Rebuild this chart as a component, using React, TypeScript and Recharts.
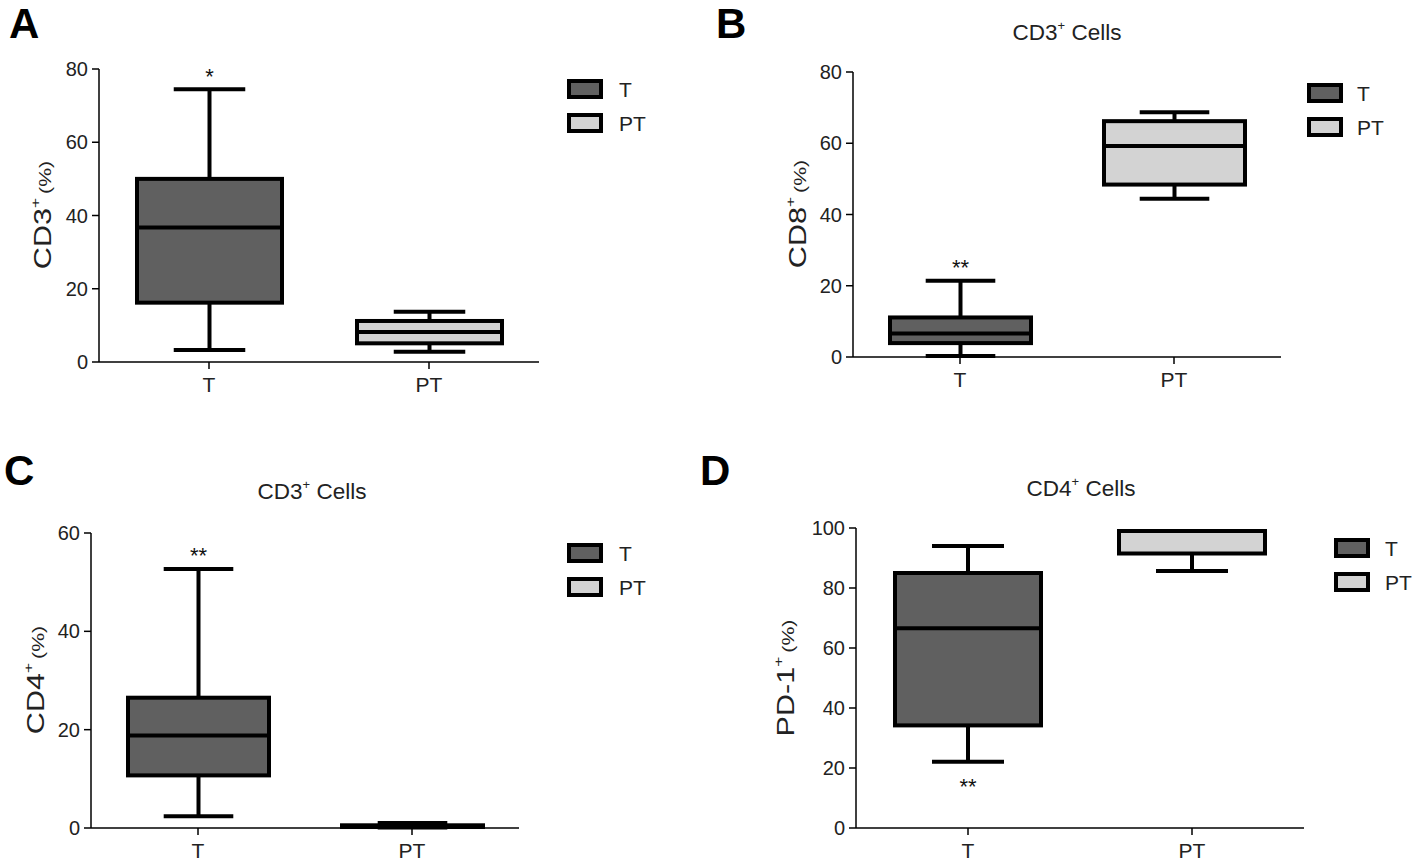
import React from 'react';
import { ComposedChart, Bar, XAxis, YAxis } from 'recharts';

// categories and legend
const categories = ['T', 'PT'];
const groupFills = ['#606060', '#d3d3d3'];

// box statistics: [min, q1, median, q3, max]
const cd3T = [3.3, 16.2, 36.7, 50.0, 74.5];
const cd3PT = [2.8, 5.1, 8.2, 11.2, 13.7];
const cd8T = [0.3, 3.9, 6.6, 11.1, 21.4];
const cd8PT = [44.4, 48.4, 59.2, 66.2, 68.7];
const cd4T = [2.4, 10.7, 18.8, 26.5, 52.7];
const cd4PT = [0.1, 0.2, 0.35, 0.55, 1.0];
const pd1T = [22.1, 34.2, 66.6, 85.0, 94.0];
const pd1PT = [85.7, 91.5, 99.0, 99.0, 99.0];

// significance marks (T group), position relative to whiskers
const sigMarks = ['*', '**', '**', '**'];
const sigPlaces = ['above', 'above', 'above', 'below'];

// tick values
const ticks80 = [0, 20, 40, 60, 80];
const ticks60 = [0, 20, 40, 60];
const ticks100 = [0, 20, 40, 60, 80, 100];

// titles / labels
const panelLetters = ['A', 'B', 'C', 'D'];
const panelTitles = ['', 'CD3', 'CD3', 'CD4'];
const yLabels = ['CD3', 'CD8', 'CD4', 'PD-1'];

const FONT = '"Liberation Sans", Arial, Helvetica, sans-serif';

function makeRows(tStats: number[], ptStats: number[], sig: string, place: string) {
  return categories.map((name, i) => ({
    name,
    stats: i === 0 ? tStats : ptStats,
    fill: groupFills[i],
    sig: i === 0 ? sig : '',
    place,
  }));
}

const BoxShape = (props: any) => {
  const { x, y, width, height, payload } = props;
  const s: number[] = payload.stats;
  const top = Math.min(y, y + height);
  const bot = Math.max(y, y + height);
  const span = s[4] - s[0];
  const py = (v: number) => (span === 0 ? top : top + ((s[4] - v) / span) * (bot - top));
  const cx = x + width / 2;
  const capHalf = width * 0.24;
  const sw = 4;
  const yMax = py(s[4]);
  const yMin = py(s[0]);
  const yQ3 = py(s[3]);
  const yQ1 = py(s[1]);
  const yMed = py(s[2]);
  return (
    <g>
      <line x1={cx} x2={cx} y1={yMax} y2={yQ3} stroke="#000" strokeWidth={sw} />
      <line x1={cx} x2={cx} y1={yQ1} y2={yMin} stroke="#000" strokeWidth={sw} />
      <line x1={cx - capHalf} x2={cx + capHalf} y1={yMax} y2={yMax} stroke="#000" strokeWidth={sw} />
      <line x1={cx - capHalf} x2={cx + capHalf} y1={yMin} y2={yMin} stroke="#000" strokeWidth={sw} />
      <rect x={x + sw / 2} y={yQ3} width={width - sw} height={Math.max(0, yQ1 - yQ3)} fill={payload.fill} stroke="#000" strokeWidth={sw} />
      <line x1={x + sw / 2} x2={x + width - sw / 2} y1={yMed} y2={yMed} stroke="#000" strokeWidth={sw} />
      {payload.sig ? (
        <text
          x={cx}
          y={payload.place === 'above' ? yMax - 5.5 : yMin + 32.5}
          textAnchor="middle"
          fontFamily={FONT}
          fontSize={22}
          fill="#111"
        >
          {payload.sig}
        </text>
      ) : null}
    </g>
  );
};

const YLabel = (props: any) => {
  const { lx, ly, main } = props;
  return (
    <text
      transform={`translate(${lx},${ly}) rotate(-90) scale(1.33,1)`}
      textAnchor="middle"
      fontFamily={FONT}
      fontSize={23}
      fill="#222"
    >
      <tspan>{main}</tspan>
      <tspan fontSize={13} dy={-11}>+</tspan>
      <tspan fontSize={16} dy={11} dx={3}>(%)</tspan>
    </text>
  );
};

type PanelProps = {
  rows: any[];
  left: number;
  top: number;
  width: number;
  height: number;
  margin: { top: number; right: number; bottom: number; left: number };
  domain: [number, number];
  ticks: number[];
  barSize: number;
  label: string;
  labelX: number;
  labelY: number;
};

const Panel = (p: PanelProps) => (
  <div style={{ position: 'absolute', left: p.left, top: p.top }}>
    <ComposedChart width={p.width} height={p.height} data={p.rows} margin={p.margin}>
      <XAxis
        dataKey="name"
        height={30}
        tickSize={7}
        tickMargin={8}
        axisLine={{ stroke: '#000', strokeWidth: 1.5 }}
        tickLine={{ stroke: '#000', strokeWidth: 1.5 }}
        tick={{ fill: '#222', fontSize: 21, fontFamily: FONT }}
      />
      <YAxis
        type="number"
        width={60}
        domain={p.domain}
        ticks={p.ticks}
        interval={0}
        tickSize={7}
        tickMargin={4}
        axisLine={{ stroke: '#000', strokeWidth: 1.5 }}
        tickLine={{ stroke: '#000', strokeWidth: 1.5 }}
        tick={{ fill: '#222', fontSize: 20, fontFamily: FONT }}
        label={<YLabel lx={p.labelX} ly={p.labelY} main={p.label} />}
      />
      <Bar
        dataKey={(d: any) => [d.stats[0], d.stats[4]]}
        barSize={p.barSize}
        shape={BoxShape}
        isAnimationActive={false}
      />
    </ComposedChart>
  </div>
);

const Legend2 = ({ x, y, tx }: { x: number; y: number; tx: number }) => (
  <g>
    {categories.map((c, i) => (
      <g key={c}>
        <rect x={x} y={y + i * 34} width={32} height={16} fill={groupFills[i]} stroke="#000" strokeWidth={4} />
        <text x={tx} y={y + 16 + i * 34} fontFamily={FONT} fontSize={21} fill="#222">
          {c}
        </text>
      </g>
    ))}
  </g>
);

const Title = ({ x, y, main }: { x: number; y: number; main: string }) => (
  <text x={x} y={y} textAnchor="middle" fontFamily={FONT} fontSize={22.5} fill="#222">
    <tspan>{main}</tspan>
    <tspan fontSize={13} dy={-10}>+</tspan>
    <tspan dy={10}> Cells</tspan>
  </text>
);

export default function App() {
  const rowsA = makeRows(cd3T, cd3PT, sigMarks[0], sigPlaces[0]);
  const rowsB = makeRows(cd8T, cd8PT, sigMarks[1], sigPlaces[1]);
  const rowsC = makeRows(cd4T, cd4PT, sigMarks[2], sigPlaces[2]);
  const rowsD = makeRows(pd1T, pd1PT, sigMarks[3], sigPlaces[3]);
  return (
    <div style={{ position: 'absolute', left: 0, top: 0, width: 1418, height: 863, background: '#fff', overflow: 'hidden' }}>
      <Panel
        rows={rowsA}
        left={0}
        top={0}
        width={700}
        height={430}
        margin={{ top: 69, right: 161, bottom: 38, left: 39 }}
        domain={[0, 80]}
        ticks={ticks80}
        barSize={149}
        label={yLabels[0]}
        labelX={51}
        labelY={215}
      />
      <Panel
        rows={rowsB}
        left={700}
        top={0}
        width={718}
        height={430}
        margin={{ top: 72, right: 137, bottom: 43, left: 93 }}
        domain={[0, 80]}
        ticks={ticks80}
        barSize={145}
        label={yLabels[1]}
        labelX={106}
        labelY={214}
      />
      <Panel
        rows={rowsC}
        left={0}
        top={440}
        width={700}
        height={423}
        margin={{ top: 93, right: 181, bottom: 5, left: 31 }}
        domain={[0, 60]}
        ticks={ticks60}
        barSize={145}
        label={yLabels[2]}
        labelX={44}
        labelY={240}
      />
      <Panel
        rows={rowsD}
        left={700}
        top={440}
        width={718}
        height={423}
        margin={{ top: 88, right: 114, bottom: 5, left: 96 }}
        domain={[0, 100]}
        ticks={ticks100}
        barSize={150}
        label={yLabels[3]}
        labelX={94}
        labelY={238}
      />
      <svg width={1418} height={863} style={{ position: 'absolute', left: 0, top: 0, pointerEvents: 'none' }}>
        <text x={9} y={38} fontFamily={FONT} fontWeight="bold" fontSize={42} fill="#000">{panelLetters[0]}</text>
        <text x={716} y={38} fontFamily={FONT} fontWeight="bold" fontSize={42} fill="#000">{panelLetters[1]}</text>
        <text x={4} y={485} fontFamily={FONT} fontWeight="bold" fontSize={42} fill="#000">{panelLetters[2]}</text>
        <text x={700} y={485} fontFamily={FONT} fontWeight="bold" fontSize={42} fill="#000">{panelLetters[3]}</text>
        <Title x={1067} y={40} main={panelTitles[1]} />
        <Title x={312} y={499} main={panelTitles[2]} />
        <Title x={1081} y={496} main={panelTitles[3]} />
        <Legend2 x={569} y={81} tx={619} />
        <Legend2 x={1309} y={85} tx={1357} />
        <Legend2 x={569} y={545} tx={619} />
        <Legend2 x={1336} y={540} tx={1385} />
      </svg>
    </div>
  );
}
